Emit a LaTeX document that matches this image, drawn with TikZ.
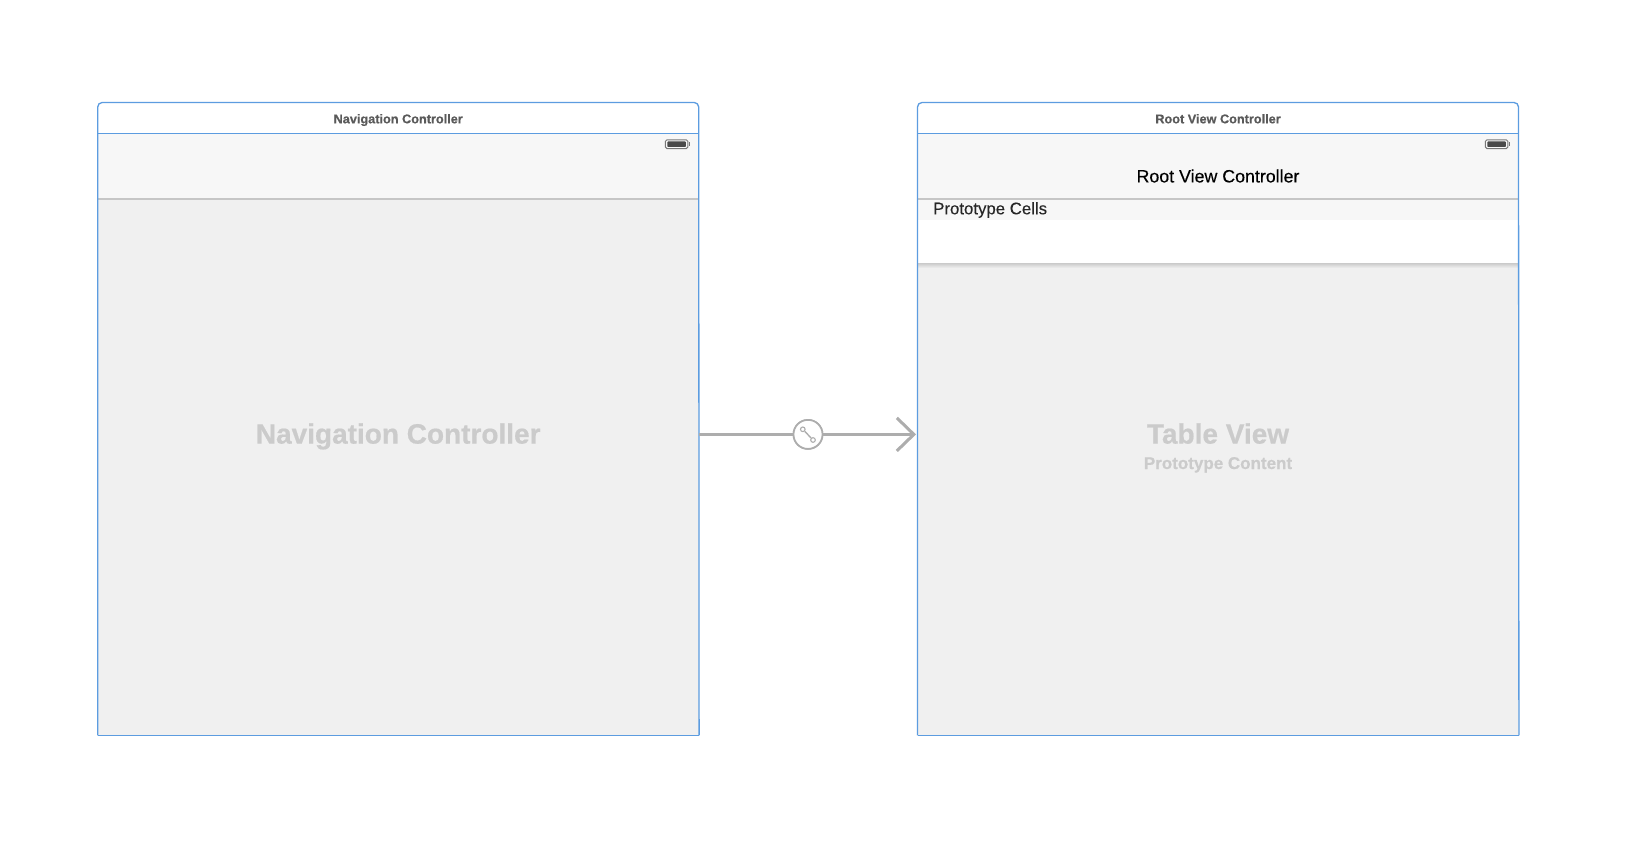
\documentclass[tikz,border=0pt]{standalone}
\usepackage{fontspec}
\setmainfont{Liberation Sans}
\newfontfamily\ghostfont[BoldFeatures={FakeBold=0.5}]{Liberation Sans}
\newfontfamily\medfont[FakeBold=0.25]{Liberation Sans}
\usetikzlibrary{arrows.meta,calc}
\definecolor{framec}{HTML}{5C9CE0}
\definecolor{bodyc}{HTML}{F0F0F0}
\definecolor{barc}{HTML}{F7F7F7}
\definecolor{sepc}{HTML}{C6C6C6}
\definecolor{titlec}{HTML}{5A5A5A}
\definecolor{ghostc}{HTML}{CBCBCB}
\definecolor{seguec}{HTML}{ADADAD}
\definecolor{battc}{HTML}{4A4A4A}
\definecolor{battl}{HTML}{777777}
\tikzset{
 x=1pt,y=-1pt,
 bodybox/.style={draw=none,fill=bodyc,inner sep=0pt,minimum width=601pt,minimum height=601.4pt,anchor=north west},
 barbox/.style={draw=none,fill=barc,inner sep=0pt,minimum width=601pt,minimum height=65pt,anchor=north west},
 titletext/.style={font=\ghostfont\bfseries\fontsize{12.7}{15}\selectfont,text=titlec,inner sep=0pt,anchor=base},
 ghostbig/.style={font=\ghostfont\bfseries\fontsize{28}{32}\selectfont,text=ghostc,inner sep=0pt,anchor=base},
 ghostsmall/.style={font=\ghostfont\bfseries\fontsize{17}{20}\selectfont,text=ghostc,inner sep=0pt,anchor=base},
 framepath/.style={draw=framec,line width=1.3pt},
 seplinec/.style={draw=sepc,line width=1.5pt},
 seguecircle/.style={circle,draw=seguec,line width=1.7pt,fill=white,minimum size=29pt,inner sep=0pt},
 seguearrow/.style={draw=seguec,line width=3pt},
 battbox/.style={draw=battl,line width=1pt,fill=barc,rounded corners=1.5pt,minimum width=22.4pt,minimum height=8.7pt,inner sep=0pt},
 battfill/.style={fill=battc,rounded corners=0.8pt,minimum width=18.6pt,minimum height=5.4pt,inner sep=0pt},
 battnub/.style={fill=battl,inner sep=0pt,minimum width=1.6pt,minimum height=4pt},
 linkdot/.style={circle,draw=seguec,line width=1.1pt,fill=white,minimum size=4.6pt,inner sep=0pt},
}
\begin{document}
\begin{tikzpicture}
\useasboundingbox (0,0) rectangle (1640,850);
\fill[white] (0,0) rectangle (1640,850);
% left scene
\node[bodybox] (navbody) at (97.7,133.5) {};
\node[barbox] (navbar) at (97.7,133.5) {};
\draw[seplinec] (navbar.south west) -- (navbar.south east);
\node[titletext] (navtitle) at (398.2,123.3) {Navigation Controller};
\node[ghostbig] (navghost) at (398.2,443.6) {Navigation Controller};
\node[battbox] (navbatt) at (676.6,144.2) {};
\node[battfill] (navbattin) at (navbatt.center) {};
\node[battnub,anchor=west] (navnub) at (navbatt.east) {};
\coordinate (navtl) at (97.7,102.5);
\coordinate (navtr) at (698.7,102.5);
\draw[framepath,rounded corners=4.5pt] (navbody.south west) -- (navtl) -- (navtr) -- (navbody.south east);
\draw[framepath] (navbody.south west) -- (navbody.south east);
\draw[framepath] (navbody.north west) -- (navbody.north east);
% right scene
\node[bodybox] (rootbody) at (917.5,133.5) {};
\node[barbox] (rootbar) at (917.5,133.5) {};
\node[fill=barc,inner sep=0pt,minimum width=601pt,minimum height=21pt,anchor=north west] (protoband) at (rootbar.south west) {};
\shade[top color=sepc,bottom color=bodyc] (917.5,262.5) rectangle (1518.5,268);
\node[fill=white,inner sep=0pt,minimum width=601pt,minimum height=43pt,anchor=north west] (cell) at (protoband.south west) {};
\draw[seplinec] (rootbar.south west) -- (rootbar.south east);
\node[titletext] (roottitle) at (1218,123.3) {Root View Controller};
\node[font=\medfont\fontsize{17.8}{21}\selectfont,text=black,inner sep=0pt,anchor=base] (rootnav) at (1218,182.4) {Root View Controller};
\node[font=\medfont\fontsize{16.8}{20}\selectfont,text=black!85,inner sep=0pt,anchor=base west] (protolabel) at (933,214.3) {Prototype Cells};
\node[ghostbig] (tableghost) at (1218,443.6) {Table View};
\node[ghostsmall] (protoghost) at (1218,469) {Prototype Content};
\node[battbox] (rootbatt) at (1496.6,144.2) {};
\node[battfill] (rootbattin) at (rootbatt.center) {};
\node[battnub,anchor=west] (rootnub) at (rootbatt.east) {};
\coordinate (roottl) at (917.5,102.5);
\coordinate (roottr) at (1518.5,102.5);
\draw[framepath,rounded corners=4.5pt] (rootbody.south west) -- (roottl) -- (roottr) -- (rootbody.south east);
\draw[framepath] (rootbody.south west) -- (rootbody.south east);
\draw[framepath] (rootbody.north west) -- (rootbody.north east);
% segue
\node[seguecircle] (segue) at (808,0 |- navbody.east) {};
\draw[seguearrow] (navbody.east) -- (segue);
\draw[seguearrow,-{Straight Barb[length=17pt,width=33pt,line width=3pt]},shorten >=1.5pt] (segue) -- (rootbody.west);
\node[seguecircle] (seguetop) at (segue.center) {};
\node[linkdot] (linka) at (802.8,429.3) {};
\node[linkdot] (linkb) at (813,440) {};
\draw[draw=seguec,line width=1.4pt] (linka) -- (linkb);
\end{tikzpicture}
\end{document}
